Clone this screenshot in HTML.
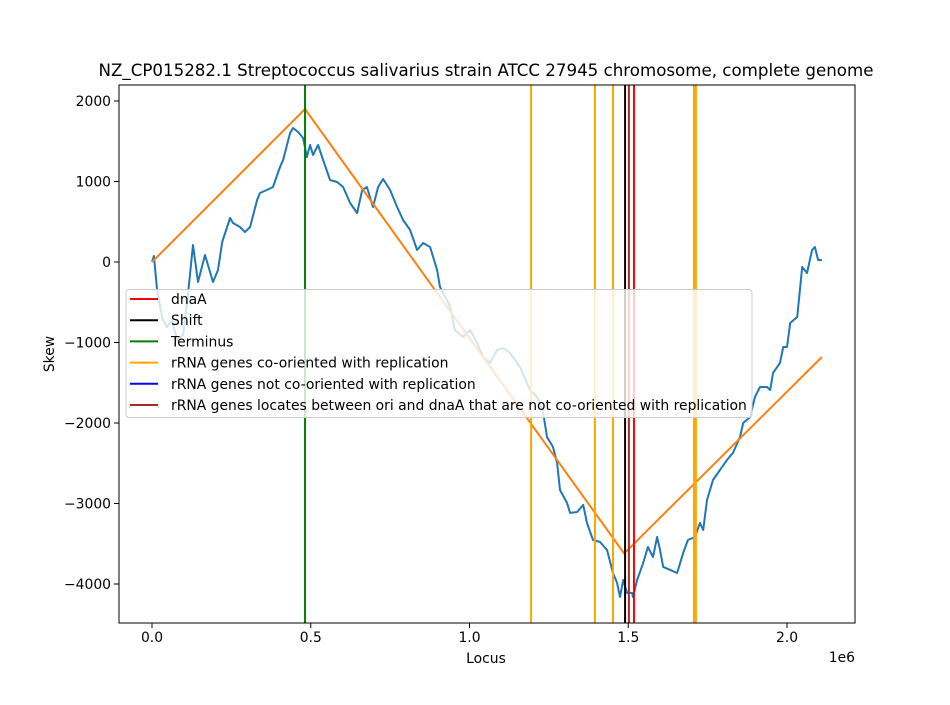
<!DOCTYPE html>
<html><head><meta charset="utf-8"><style>
body{margin:0;background:#fff}
svg{font-family:"DejaVu Sans","Liberation Sans",sans-serif}
</style></head><body>
<svg id="chart" width="950" height="700" xmlns="http://www.w3.org/2000/svg">
<rect width="950" height="700" fill="#fff"/>
<g id="plot"></g>
</svg>
<script>
const xs=[0.000,0.006,0.016,0.032,0.047,0.063,0.079,0.098,0.113,0.129,0.145,0.167,0.192,0.208,0.221,0.246,0.255,0.277,0.293,0.309,0.331,0.340,0.362,0.381,0.403,0.413,0.435,0.444,0.460,0.476,0.488,0.498,0.507,0.523,0.539,0.561,0.583,0.602,0.624,0.646,0.662,0.677,0.696,0.712,0.728,0.750,0.772,0.791,0.813,0.835,0.854,0.876,0.898,0.907,0.929,0.939,0.954,0.980,1.002,1.024,1.043,1.065,1.087,1.106,1.128,1.159,1.191,1.213,1.232,1.244,1.263,1.276,1.285,1.307,1.317,1.339,1.358,1.370,1.389,1.411,1.433,1.452,1.465,1.474,1.484,1.496,1.512,1.515,1.528,1.547,1.562,1.578,1.591,1.600,1.610,1.632,1.654,1.673,1.688,1.710,1.726,1.736,1.748,1.767,1.789,1.811,1.830,1.852,1.862,1.884,1.899,1.915,1.937,1.947,1.956,1.978,1.988,2.000,2.010,2.032,2.048,2.063,2.079,2.088,2.098,2.110];
const skew=[0,75,-348,-696,-807,-720,-969,-907,-410,211,-248,87,-248,-99,248,546,484,435,373,435,770,857,894,932,1180,1267,1602,1664,1615,1540,1304,1453,1329,1453,1267,1018,994,932,733,609,894,932,683,932,1031,894,683,522,397,149,236,186,-99,-311,-472,-559,-845,-932,-845,-1006,-1180,-1254,-1093,-1068,-1130,-1304,-1590,-1677,-1875,-2174,-2298,-2496,-2832,-2993,-3117,-3105,-3018,-3242,-3453,-3478,-3577,-3863,-3987,-4161,-3950,-4111,-4111,-4161,-3950,-3738,-3540,-3664,-3416,-3577,-3788,-3825,-3863,-3614,-3453,-3416,-3242,-3329,-2956,-2708,-2583,-2459,-2372,-2174,-2000,-1925,-1677,-1553,-1553,-1590,-1379,-1254,-1056,-1056,-758,-683,-62,-137,149,186,25,25];
const fitX=[0,0.482,1.487,2.110];
const fitY=[0,1900,-3620,-1180];
const rrnaCo=[1.194,1.395,1.452,1.707,1.713];
const dnaA=[1.518];
const shift=[1.490];
const terminus=[0.482];
const brownGenes=[1.502];
const xTicks=[0,0.5,1.0,1.5,2.0];
const xTickLabels=["0.0","0.5","1.0","1.5","2.0"];
const yTicks=[2000,1000,0,-1000,-2000,-3000,-4000];
const yTickLabels=["2000","1000","0","\u22121000","\u22122000","\u22123000","\u22124000"];
const legendLabels=["dnaA","Shift","Terminus","rRNA genes co-oriented with replication","rRNA genes not co-oriented with replication","rRNA genes locates between ori and dnaA that are not co-oriented with replication"];
const legendColors=["#ff0000","#000000","#008000","#ffa500","#0000ff","#a52a2a"];

const L=119,R=855,T=85,B=623;
const X=v=>152+v*317.5;
const Y=v=>262-v*0.0805;
const NS="http://www.w3.org/2000/svg";
const g=document.getElementById('plot');
function mk(tag,attrs,parent){const e=document.createElementNS(NS,tag);for(const k in attrs)e.setAttribute(k,attrs[k]);(parent||g).appendChild(e);return e;}

const clip=mk('clipPath',{id:'c'});mk('rect',{x:L,y:T,width:R-L,height:B-T},clip);
const data=mk('g',{'clip-path':'url(#c)'});



let pts=xs.map((x,i)=>X(x).toFixed(1)+','+Y(skew[i]).toFixed(1)).join(' ');
const sk=mk('polyline',{points:pts,fill:'none',stroke:'#1f77b4','stroke-width':2,'stroke-linejoin':'round'},data);


let fp=fitX.map((x,i)=>X(x)+','+Y(fitY[i])).join(' ');
const ft=mk('polyline',{points:fp,fill:'none',stroke:'#ff7f0e','stroke-width':2},data);



function vlines(arr,color,name){arr.forEach(v=>{const l=mk('line',{x1:X(v),x2:X(v),y1:T,y2:B,stroke:color,'stroke-width':2},data);

});}
vlines(terminus,'#008000','terminus-line');
vlines(rrnaCo,'#ffa500','rrna-co-oriented-line');
vlines(shift,'#000000','shift-line');
vlines(brownGenes,'#a52a2a','rrna-between-ori-dnaa-line');
vlines(dnaA,'#ff0000','dnaa-line');

const frame=mk('rect',{x:L,y:T,width:R-L,height:B-T,fill:'none',stroke:'#000','stroke-width':1});



xTicks.forEach((v,i)=>{mk('line',{x1:X(v),x2:X(v),y1:B,y2:B+5,stroke:'#000'});
const t=mk('text',{x:X(v),y:B+19,'text-anchor':'middle','font-size':13.9});t.textContent=xTickLabels[i];

});
yTicks.forEach((v,i)=>{mk('line',{x1:L-5,x2:L,y1:Y(v),y2:Y(v),stroke:'#000'});
const t=mk('text',{x:L-8,y:Y(v)+5,'text-anchor':'end','font-size':13.9});t.textContent=yTickLabels[i];

});

const lg=mk('g',{});


mk('rect',{x:126,y:289.5,width:626,height:128,rx:3,fill:'#fff','fill-opacity':0.8,stroke:'#ccc'},lg);
legendLabels.forEach((s,i)=>{const y=299+i*21.2;
mk('line',{x1:130,x2:158,y1:y,y2:y,stroke:legendColors[i],'stroke-width':2},lg);
const t=mk('text',{x:171,y:y+5,'font-size':13.9},lg);t.textContent=s;

});
</script>
<div style="position:absolute;left:0;top:0;width:950px;height:700px;pointer-events:none">
<svg width="950" height="700" xmlns="http://www.w3.org/2000/svg" style="font-family:'DejaVu Sans','Liberation Sans',sans-serif">
<text x="486" y="76" text-anchor="middle" font-size="16.67">NZ_CP015282.1 Streptococcus salivarius strain ATCC 27945 chromosome, complete genome</text>
<text x="486" y="663" text-anchor="middle" font-size="13.9">Locus</text>
<text x="855" y="662" text-anchor="end" font-size="13.9">1e6</text>
<text x="54" y="354" text-anchor="middle" font-size="13.9" transform="rotate(-90 54 354)">Skew</text>
</svg></div>
</body></html>
